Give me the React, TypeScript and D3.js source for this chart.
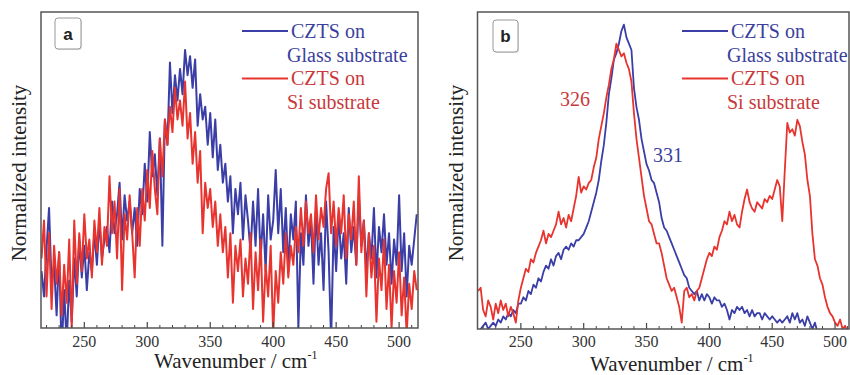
import React, { useEffect, useRef } from "react";
import * as d3 from "d3";

// wavenumber grids, cm^-1 (2 cm^-1 steps)
const wavenumbersA = d3.range(216, 516, 2);
const wavenumbersB = d3.range(216, 512, 2);

// panel a : normalized intensity (0 = frame bottom, 100 = frame top)
const glassA = [
  18, 10, 25, 38, 14, 20, 4, 24, -8, 12,
  -5, 15, 2, 22, 10, 28, 16, 26, 12, 24,
  18, 30, 20, 34, 22, 28, 32, 24, 40, 30,
  36, 46, 28, 42, 34, 40, 30, 38, 26, 44,
  36, 52, 40, 62, 48, 55, 42, 60, 26, 66,
  58, 84, 68, 80, 72, 82, 74, 88, 80, 86,
  76, 85, 64, 74, 66, 70, 58, 68, 54, 66,
  50, 58, 46, 52, 40, 48, 30, 44, 36, 46,
  28, 42, 34, 24, 40, 26, 44, 22, 36, 18,
  42, 28, 34, 50, 30, 44, 24, 38, 18, 36,
  28, 40, 0, 30, 20, 42, 26, 34, 14, 38,
  20, 30, 12, 40, 24, -4, 32, 18, 36, 22,
  30, 14, 38, 24, 32, 20, 42, 26, 34, 18,
  30, 22, 38, 16, 32, 24, 36, 20, 30, 14,
  28, 20, 42, 18, 30, 10, 26, 20, 28, 36,
];
const siA = [
  22, 34, 10, 30, 6, 26, 14, 24, 4, 20,
  8, 28, 0, 34, 14, 30, 18, 36, 22, 28,
  16, 34, 24, 38, 20, 32, 26, 48, 30, 40,
  22, 44, 12, 36, 28, 42, 30, 16, 38, 26,
  44, 34, 50, 38, 56, 44, 36, 60, 48, 66,
  58, 70, 62, 76, 66, 72, 64, 78, 60, 68,
  52, 62, 46, 56, 30, 46, 38, 44, 32, 40,
  26, 36, 24, 32, 16, 30, 8, 26, 18, 28,
  10, 22, 14, 30, 6, 24, 12, 28, 2, 20,
  10, 26, -2, 18, 8, 24, 14, 30, 16, 26,
  20, 32, 24, 38, 26, 40, 30, 36, 24, 42,
  28, 38, 32, 44, 49, 30, 40, 26, 38, 30,
  42, 22, 36, 28, 40, 20, 48, 24, 34, 10,
  30, 16, 26, 2, 22, 12, 28, 6, 20, 0,
  18, 8, 24, 4, 16, -2, 14, 6, 18, 12,
];

// panel b
const glassB = [
  -3, 0, 1, 2, 0, 1, 2, 1, 3, 2,
  4, 3, 5, 4, 6, 5, 8, 8, 10, 9,
  12, 11, 14, 13, 16, 15, 18, 20, 19, 22,
  20, 23, 24, 22, 25, 26, 25, 27, 26, 28,
  28, 29, 30, 32, 34, 37, 40, 43, 47, 53,
  58, 65, 74, 79, 85, 87, 90, 94, 96, 92,
  90, 88, 76, 70, 66, 60, 56, 52, 50, 47,
  46, 43, 40, 35, 32, 31, 29, 27, 25, 23,
  21, 19, 17, 16, 13, 12, 11, 12, 9, 11,
  9, 11, 10, 8, 10, 9, 9, 7, 8, 6,
  3, 6, 5, 7, 6, 7, 5, 6, 4, 6,
  4, 5, 5, 3, 5, 4, 3, 4, 3, 2,
  3, 2, 3, 4, 2, 5, 3, 5, 2, 3,
  1, 4, 2, 0, 2, -1, -3, -4, -4, -5,
  -5, -6, -6, -7, -7, -8, -8, -8,
];
const siB = [
  12, 13, 6, 4, 9, 7, 3, 8, 5, 9,
  6, 8, 4, 7, 5, 2, 9, 13, 16, 19,
  18, 22, 21, 24, 26, 28, 31, 27, 30, 29,
  31, 33, 37, 33, 35, 32, 36, 34, 38, 42,
  48, 43, 45, 44, 46, 47, 51, 54, 60, 64,
  68, 73, 77, 82, 85, 90, 88, 86, 87, 84,
  82, 78, 68, 60, 54, 48, 42, 38, 34, 33,
  30, 27, 27, 24, 20, 16, 14, 12, 13, 10,
  7, 2, 12, 13, 10, 11, 9, 12, 13, 16,
  19, 22, 24, 23, 26, 25, 29, 31, 34, 33,
  37, 34, 36, 33, 32, 37, 41, 44, 40, 38,
  37, 40, 39, 38, 41, 40, 42, 41, 44, 47,
  45, 34, 50, 65, 62, 63, 61, 66, 64, 59,
  55, 47, 42, 30, 22, 20, 16, 14, 10, 7,
  5, 4, 2, 1, 3, 0, 1, -1,
];

const majorTicks = [250, 300, 350, 400, 450, 500];
const minorTicks = d3.range(220, 520, 10);
const legendLabels = [
  ["CZTS on", "Glass substrate"],
  ["CZTS on", "Si substrate"],
];

const BLUE = "#3a3ea6";
const RED = "#e8342f";
const BLUE_TEXT = "#3b3f9c";
const RED_TEXT = "#c9383a";
const SERIF = '"Liberation Serif", "Tinos", "Times New Roman", "DejaVu Serif", serif';

const panels = [
  {
    id: "a", left: 41, right: 418, top: 12, bottom: 328, domain: [215.6, 515],
    wn: wavenumbersA, series: [glassA, siA], lw: 2,
    box: { x: 55, y: 18, w: 26, h: 31 }, legendX: 242, titleX: 154, titleY: 368, yTitleX: 26,
  },
  {
    id: "b", left: 477.5, right: 849, top: 12, bottom: 329, domain: [215.5, 511.1],
    wn: wavenumbersB, series: [glassB, siB], lw: 1.8,
    box: { x: 493, y: 20, w: 25, h: 32 }, legendX: 682, titleX: 590, titleY: 371, yTitleX: 463,
  },
];

function drawPanel(svg, p) {
  const x = d3.scaleLinear().domain(p.domain).range([p.left, p.right]);
  const y = d3.scaleLinear().domain([0, 100]).range([p.bottom, p.top]);
  const g = svg.append("g");
  const clipId = `clip-${p.id}`;
  g.append("clipPath")
    .attr("id", clipId)
    .append("rect")
    .attr("x", p.left)
    .attr("y", p.top)
    .attr("width", p.right - p.left)
    .attr("height", p.bottom - p.top);

  const colors = [BLUE, RED];
  p.series.forEach((values, k) => {
    const line = d3
      .line<number>()
      .x((d, i) => x(p.wn[i]))
      .y((d) => y(d));
    g.append("path")
      .attr("d", line(values))
      .attr("fill", "none")
      .attr("stroke", colors[k])
      .attr("stroke-width", p.lw)
      .attr("stroke-linejoin", "round")
      .attr("clip-path", `url(#${clipId})`);
  });

  // inward ticks on bottom axis
  minorTicks
    .filter((t) => t > p.domain[0] && t < p.domain[1] && t % 50 !== 0)
    .forEach((t) => {
      g.append("line")
        .attr("x1", x(t)).attr("x2", x(t))
        .attr("y1", p.bottom).attr("y2", p.bottom - 3)
        .attr("stroke", "#444").attr("stroke-width", 1);
    });
  majorTicks.forEach((t) => {
    g.append("line")
      .attr("x1", x(t)).attr("x2", x(t))
      .attr("y1", p.bottom).attr("y2", p.bottom - 6)
      .attr("stroke", "#444").attr("stroke-width", 1.2);
    g.append("text")
      .attr("x", x(t))
      .attr("y", 347)
      .attr("text-anchor", "middle")
      .attr("class", "serif")
      .attr("font-size", 16)
      .attr("fill", "#333")
      .text(t);
  });

  g.append("rect")
    .attr("x", p.left).attr("y", p.top)
    .attr("width", p.right - p.left).attr("height", p.bottom - p.top)
    .attr("fill", "none").attr("stroke", "#555").attr("stroke-width", 1.5);

  // axis titles
  const title = g.append("text")
    .attr("x", p.titleX).attr("y", p.titleY)
    .attr("class", "serif").attr("font-size", 21).attr("fill", "#222");
  title.append("tspan").text("Wavenumber / cm");
  title.append("tspan").attr("font-size", 12).attr("dy", -9).text("-1");

  g.append("text")
    .attr("transform", `translate(${p.yTitleX},173) rotate(-90)`)
    .attr("text-anchor", "middle")
    .attr("class", "serif").attr("font-size", 21).attr("fill", "#222")
    .text("Normalized intensity");

  // panel letter box
  const b = p.box;
  g.append("rect")
    .attr("x", b.x + 1).attr("y", b.y + 1).attr("width", b.w).attr("height", b.h)
    .attr("rx", 3).attr("fill", "#ddd");
  g.append("rect")
    .attr("x", b.x).attr("y", b.y).attr("width", b.w).attr("height", b.h)
    .attr("rx", 3).attr("fill", "#fff").attr("stroke", "#999").attr("stroke-width", 1);
  g.append("text")
    .attr("x", b.x + b.w / 2).attr("y", b.y + b.h / 2 + 6)
    .attr("text-anchor", "middle")
    .attr("class", "sans")
    .attr("font-weight", "bold").attr("font-size", 17).attr("fill", "#222")
    .text(p.id);

  // legend
  const textColors = [BLUE_TEXT, RED_TEXT];
  legendLabels.forEach((lines, k) => {
    const ly = 31 + k * 47.5;
    g.append("line")
      .attr("x1", p.legendX).attr("x2", p.legendX + 46)
      .attr("y1", ly).attr("y2", ly)
      .attr("stroke", colors[k]).attr("stroke-width", 2);
    g.append("text")
      .attr("x", p.legendX + 49).attr("y", ly + 6.5)
      .attr("class", "serif").attr("font-size", 20).attr("fill", textColors[k])
      .text(lines[0]);
    g.append("text")
      .attr("x", p.legendX + 45).attr("y", ly + 30.5)
      .attr("class", "serif").attr("font-size", 20).attr("fill", textColors[k])
      .text(lines[1]);
  });

  if (p.id === "b") {
    g.append("text")
      .attr("x", 560).attr("y", 106)
      .attr("class", "serif").attr("font-size", 20).attr("fill", RED_TEXT)
      .text("326");
    g.append("text")
      .attr("x", 653).attr("y", 162)
      .attr("class", "serif").attr("font-size", 20).attr("fill", BLUE_TEXT)
      .text("331");
  }
}

const App = () => {
  const svgRef = useRef<SVGSVGElement>(null);

  useEffect(() => {
    const svg = d3.select(svgRef.current);
    svg.selectAll("g").remove();
    panels.forEach((p) => drawPanel(svg, p));
  }, []);

  return (
    <svg
      ref={svgRef}
      width={850}
      height={375}
      style={{ position: "absolute", left: 0, top: 0, background: "#fff" }}
    >
      <style>{`
        .serif { font-family: ${SERIF}; }
        .sans { font-family: "Liberation Sans", Arial, sans-serif; }
      `}</style>
    </svg>
  );
};

export default App;
